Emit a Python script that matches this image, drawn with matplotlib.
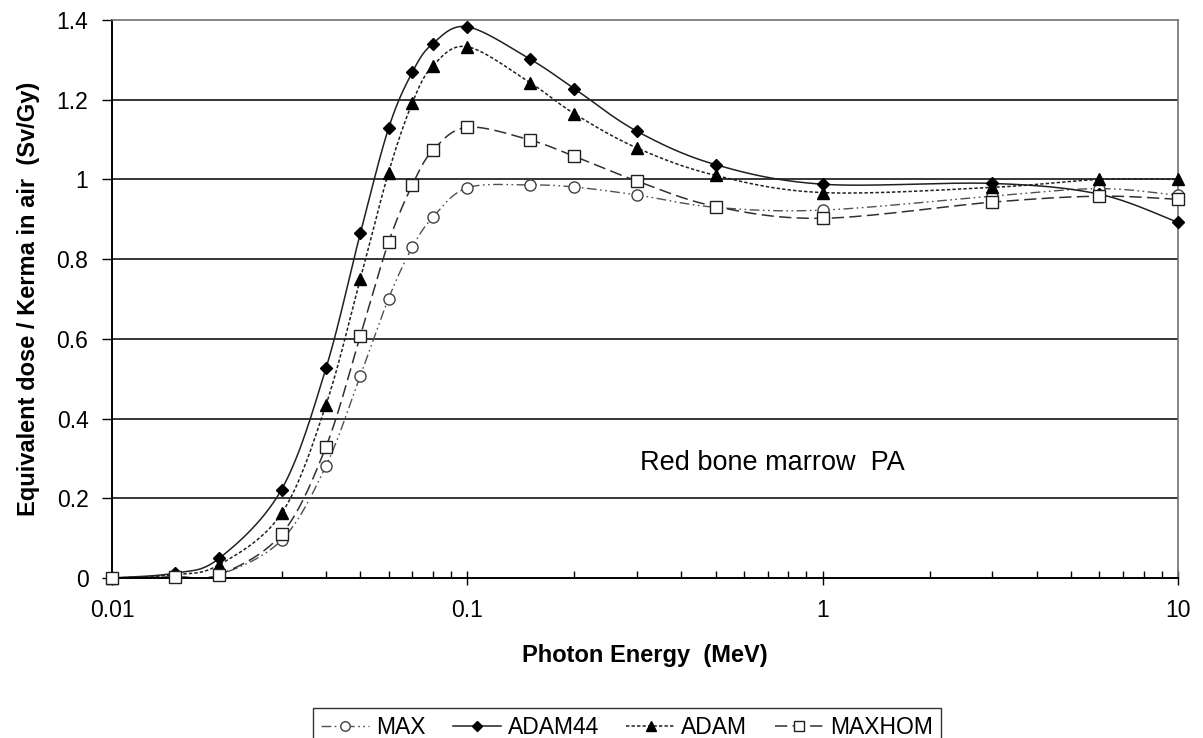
import numpy as np
import matplotlib
matplotlib.use("Agg")
import matplotlib.pyplot as plt
from matplotlib.lines import Line2D

plt.rcParams['font.family'] = ['Liberation Sans', 'DejaVu Sans']

energy = [0.01, 0.015, 0.02, 0.03, 0.04, 0.05, 0.06, 0.07, 0.08, 0.1,
          0.15, 0.2, 0.3, 0.5, 1, 3, 6, 10]
max_vals = [0, 0.002, 0.008, 0.095, 0.281, 0.508, 0.701, 0.830, 0.905, 0.979,
            0.986, 0.981, 0.961, 0.930, 0.923, 0.958, 0.977, 0.960]
adam44_vals = [0, 0.012, 0.049, 0.222, 0.526, 0.865, 1.128, 1.269, 1.341, 1.383,
               1.302, 1.228, 1.121, 1.037, 0.988, 0.990, 0.963, 0.892]
adam_vals = [0, 0.008, 0.033, 0.162, 0.434, 0.751, 1.017, 1.192, 1.285, 1.333,
             1.243, 1.165, 1.079, 1.010, 0.967, 0.980, 1.000, 1.000]
maxhom_vals = [0, 0.003, 0.008, 0.110, 0.329, 0.608, 0.842, 0.986, 1.073, 1.131,
               1.099, 1.058, 0.996, 0.932, 0.9025, 0.943, 0.958, 0.950]
series_names = ["MAX", "ADAM44", "ADAM", "MAXHOM"]
xtick_vals = [0.01, 0.1, 1, 10]
xtick_labels = ["0.01", "0.1", "1", "10"]
ytick_vals = [0, 0.2, 0.4, 0.6, 0.8, 1.0, 1.2, 1.4]
ytick_labels = ["0", "0.2", "0.4", "0.6", "0.8", "1", "1.2", "1.4"]

W, H = 1203, 738
fig = plt.figure(figsize=(W / 100, H / 100), dpi=100)
L, R, T, B = 112, 1178, 20, 578
ax = fig.add_axes([L / W, 1 - B / H, (R - L) / W, (B - T) / H])
ax.set_xscale('log')
ax.set_xlim(0.01, 10)
ax.set_ylim(0, 1.4)


def smooth(xs, ys, n=30):
    pts = ax.transData.transform(np.column_stack([xs, ys]))
    P = np.vstack([pts[0], pts, pts[-1]])
    out = []
    for i in range(1, len(P) - 2):
        p0, p1, p2, p3 = P[i - 1], P[i], P[i + 1], P[i + 2]
        c1 = p1 + (p2 - p0) / 6.0
        c2 = p2 - (p3 - p1) / 6.0
        t = np.linspace(0, 1, n)[:, None]
        seg = ((1 - t) ** 3) * p1 + 3 * ((1 - t) ** 2) * t * c1 + 3 * (1 - t) * t ** 2 * c2 + t ** 3 * p2
        out.append(seg if i == 1 else seg[1:])
    out = np.vstack(out)
    d = ax.transData.inverted().transform(out)
    return d[:, 0], d[:, 1]


styles = {
    "MAX": dict(color='#505050', dashes=(7, 2.5, 1.2, 2.5, 1.2, 2.5), lw=1.0,
                marker='o', mfc='white', mec='#404040', ms=8),
    "ADAM44": dict(color='#202020', dashes=None, lw=1.1,
                   marker='D', mfc='black', mec='black', ms=6.5),
    "ADAM": dict(color='#202020', dashes=(2.2, 1.4), lw=1.1,
                 marker='^', mfc='black', mec='black', ms=8),
    "MAXHOM": dict(color='#303030', dashes=(8, 3.5), lw=1.1,
                   marker='s', mfc='white', mec='#202020', ms=8.5),
}
data = {"MAX": max_vals, "ADAM44": adam44_vals, "ADAM": adam_vals, "MAXHOM": maxhom_vals}

for yv in ytick_vals[1:-1]:
    ax.axhline(yv, color='black', lw=1.1, zorder=1)

handles = []
for name in series_names:
    st = styles[name]
    sx, sy = smooth(energy, data[name])
    ln, = ax.plot(sx, sy, color=st['color'], lw=st['lw'], zorder=2, solid_capstyle='butt')
    if st['dashes'] is not None:
        ln.set_dashes(st['dashes'])
    ax.plot(energy, data[name], linestyle='none', marker=st['marker'], mfc=st['mfc'],
            mec=st['mec'], ms=st['ms'], mew=1.0, zorder=3, clip_on=False)
    h = Line2D([], [], color=st['color'], lw=st['lw'], marker=st['marker'], mfc=st['mfc'],
               mec=st['mec'], ms=st['ms'] * 0.85, mew=1.0)
    if st['dashes'] is not None:
        h.set_dashes(st['dashes'])
    handles.append(h)

ax.set_xticks(xtick_vals)
ax.set_xticklabels(xtick_labels)
ax.set_yticks(ytick_vals)
ax.set_yticklabels(ytick_labels)
ax.tick_params(axis='x', which='major', direction='inout', length=10, width=1.0,
               labelsize=16.5, pad=10)
ax.tick_params(axis='x', which='minor', direction='in', length=5, width=1.0)
ax.tick_params(axis='y', which='major', direction='out', length=7, width=1.0,
               labelsize=16.5, pad=10)
for sp in ['left', 'bottom']:
    ax.spines[sp].set_color('black')
    ax.spines[sp].set_linewidth(1.4)
for sp in ['top', 'right']:
    ax.spines[sp].set_color('#707070')
    ax.spines[sp].set_linewidth(1.2)

ax.set_xlabel("Photon Energy  (MeV)", fontsize=17, fontweight='bold', labelpad=16)
ax.set_ylabel("Equivalent dose / Kerma in air  (Sv/Gy)", fontsize=17, fontweight='bold', labelpad=12)

ax.text(0.306, 0.289, "Red bone marrow  PA", fontsize=19.5, ha='left', va='center')

leg = fig.legend(handles, series_names, loc='upper center', ncol=4,
                 bbox_to_anchor=(0.521, 1 - 697 / H), fontsize=16.5, frameon=True,
                 fancybox=False, edgecolor='black', handlelength=2.1,
                 handletextpad=0.3, columnspacing=1.2, borderpad=0.35)
leg.get_frame().set_linewidth(1.0)

fig.savefig("out.png", dpi=100)
